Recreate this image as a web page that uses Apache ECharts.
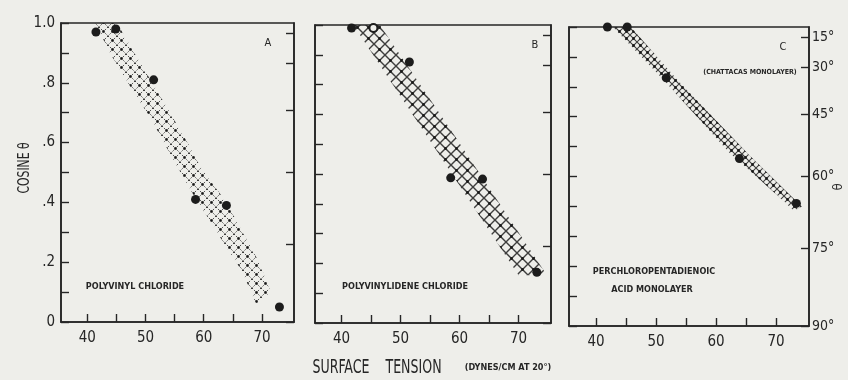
<!DOCTYPE html>
<html lang="en">
<head>
<meta charset="UTF-8">
<title>Cosine theta vs surface tension</title>
<script src="https://cdn.jsdelivr.net/npm/echarts@6/dist/echarts.min.js"></script>
<style>
    html, body { margin: 0; padding: 0; background: #eeeeea; }
    #chart { width: 848px; height: 380px; }
</style>
</head>
<body>
<div id="chart"></div>
<script>
// ticks and labels
var xTicks = [40, 45, 50, 55, 60, 65, 70];
var xLabels = [40, 50, 60, 70];
var yTicks = [0, 0.1, 0.2, 0.3, 0.4, 0.5, 0.6, 0.7, 0.8, 0.9, 1.0];
var yLabels = [0, 0.2, 0.4, 0.6, 0.8, 1.0];
var angleTicks = [15, 30, 45, 60, 75, 90];   // right axis, degrees

// measured points [surface tension, cos theta]
var pointsA = [[41.5, 0.97], [44.9, 0.98], [51.4, 0.81], [58.6, 0.41], [63.9, 0.39], [73.0, 0.05]];
var pointsB = [[41.7, 0.99], [51.5, 0.876], [58.5, 0.487], [63.9, 0.483], [73.1, 0.17]];
var openB = [[45.4, 0.99]];
var pointsC = [[41.9, 1.0], [45.2, 1.0], [51.7, 0.83], [63.9, 0.56], [73.4, 0.41]];

// hatched bands: lower edge, upper edge
var bandALow = [[41.4, 1.0], [43.9, 0.9], [47.3, 0.79], [51.1, 0.675], [54.7, 0.545], [58.1, 0.43], [61, 0.34], [63.9, 0.25], [66.6, 0.17], [69, 0.06]];
var bandAHigh = [[45.1, 1.0], [48.7, 0.88], [52.4, 0.76], [57.2, 0.60], [59.4, 0.52], [63.9, 0.40], [66.4, 0.31], [69.5, 0.20], [71.5, 0.10]];
var bandBLow = [[42, 1.0], [56.4, 0.57], [70, 0.16]];
var bandBHigh = [[46.5, 1.0], [58.6, 0.645], [74.8, 0.16]];
var bandCLow = [[42.8, 1.0], [51.4, 0.82], [62.2, 0.58], [71.2, 0.42], [73, 0.385]];
var bandCHigh = [[45.8, 1.0], [53.7, 0.82], [65.6, 0.57], [74.3, 0.40]];

var ink = '#262626';
var paper = '#eeeeea';
var font = '"DejaVu Sans Condensed", "DejaVu Sans", sans-serif';

// cross-hatch tile, dotted for the rougher panel
function makeHatch(s, dotted, lw) {
    var c = document.createElement('canvas');
    c.width = s; c.height = s;
    var g = c.getContext('2d');
    g.strokeStyle = 'rgba(30,30,30,0.85)';
    g.lineWidth = lw;
    if (dotted) g.setLineDash([1.5, 1.5]);
    g.beginPath();
    g.moveTo(0, 0); g.lineTo(s, s);
    g.moveTo(s, 0); g.lineTo(0, s);
    g.stroke();
    g.fillStyle = 'rgba(20,20,20,0.9)';
    g.beginPath(); g.arc(s / 2, s / 2, 1.4, 0, Math.PI * 2); g.fill();
    return c;
}

var grids = [
    {left: 61, top: 23, width: 233, height: 299},
    {left: 315, top: 25, width: 236, height: 298},
    {left: 569, top: 27, width: 240, height: 299}
];
var bands = [
    {low: bandALow, high: bandAHigh, hatch: 9, dotted: true, lw: 1},
    {low: bandBLow, high: bandBHigh, hatch: 11, dotted: false, lw: 1.4},
    {low: bandCLow, high: bandCHigh, hatch: 7, dotted: false, lw: 1.1}
];
var points = [pointsA, pointsB, pointsC];

var xAxes = [], yAxes = [], series = [];
grids.forEach(function (g, i) {
    g.show = true;
    g.borderColor = ink;
    g.borderWidth = 1.6;
    xAxes.push({
        type: 'value', gridIndex: i, min: 35.5, max: 75.5,
        axisLine: {lineStyle: {color: ink, width: 1.6}},
        axisTick: {inside: true, length: 8, customValues: xTicks, lineStyle: {color: ink, width: 1.4}},
        axisLabel: {customValues: xLabels, margin: 9, color: ink, fontSize: 15, fontFamily: font},
        splitLine: {show: false}
    });
    yAxes.push({
        type: 'value', gridIndex: i, min: 0, max: 1,
        axisLine: {show: true, lineStyle: {color: ink, width: 1.6}},
        axisTick: {inside: true, length: 8, customValues: yTicks, lineStyle: {color: ink, width: 1.4}},
        axisLabel: {
            show: i === 0, customValues: yLabels, margin: 6, color: ink, fontSize: 15, fontFamily: font,
            formatter: function (v) {
                if (v === 0) return '0';
                if (v === 1) return '1.0';
                return '.' + Math.round(v * 10);
            }
        },
        splitLine: {show: false}
    });
    var cosTicks = angleTicks.map(function (a) { return Math.cos(a * Math.PI / 180); });
    yAxes.push({
        type: 'value', gridIndex: i, min: 0, max: 1, position: 'right',
        axisLine: {show: true, lineStyle: {color: ink, width: 1.6}},
        axisTick: {inside: true, length: 8, customValues: cosTicks, lineStyle: {color: ink, width: 1.4}},
        axisLabel: {
            show: i === 2, customValues: cosTicks, margin: 3, color: ink, fontSize: 14, fontFamily: font,
            formatter: function (v) { return Math.round(Math.acos(Math.min(1, v)) * 180 / Math.PI) + '°'; }
        },
        splitLine: {show: false}
    });

    var b = bands[i];
    var poly = b.low.concat(b.high.slice().reverse());
    var pattern = makeHatch(b.hatch, b.dotted, b.lw);
    series.push({
        type: 'custom', xAxisIndex: i, yAxisIndex: 2 * i, silent: true,
        data: [0],
        renderItem: function (params, api) {
            return {
                type: 'polygon',
                shape: {points: poly.map(function (p) { return api.coord(p); })},
                style: {fill: {image: pattern, repeat: 'repeat'}, stroke: null}
            };
        }
    });
    series.push({
        type: 'scatter', xAxisIndex: i, yAxisIndex: 2 * i, clip: false,
        symbol: 'circle', symbolSize: 9,
        itemStyle: {color: '#1c1c1c', opacity: 1},
        data: points[i]
    });
});
series.push({
    type: 'scatter', xAxisIndex: 1, yAxisIndex: 2, clip: false,
    symbol: 'circle', symbolSize: 8,
    itemStyle: {color: paper, borderColor: '#1c1c1c', borderWidth: 2, opacity: 1},
    data: openB
});

function txt(t, x, y, size, opts) {
    opts = opts || {};
    return {
        type: 'text', x: x, y: y, rotation: opts.rotation || 0, scaleY: opts.scaleY || 1,
        style: {
            text: t, fill: ink, font: (opts.weight || 'normal') + ' ' + size + 'px ' + font,
            textAlign: opts.align || 'center', textVerticalAlign: 'middle',
            align: opts.align || 'center', verticalAlign: 'middle'
        }
    };
}

var myChart = echarts.init(document.getElementById('chart'));
var option = {
    backgroundColor: paper,
    animation: false,
    grid: grids,
    xAxis: xAxes,
    yAxis: yAxes,
    series: series,
    graphic: [
        txt('A', 268, 43, 11),
        txt('B', 535, 45, 11),
        txt('C', 783, 47, 11),
        txt('POLYVINYL CHLORIDE', 135, 287, 9, {weight: 'bold'}),
        txt('POLYVINYLIDENE CHLORIDE', 405, 287, 9, {weight: 'bold'}),
        txt('PERCHLOROPENTADIENOIC', 654, 272, 9, {weight: 'bold'}),
        txt('ACID MONOLAYER', 652, 290, 9, {weight: 'bold'}),
        txt('(CHATTACAS MONOLAYER)', 750, 72, 7, {weight: 'bold'}),
        txt('COSINE θ', 25, 168, 12, {rotation: Math.PI / 2, scaleY: 1.3}),
        txt('θ', 839, 187, 13, {rotation: Math.PI / 2}),
        txt('SURFACE    TENSION', 377, 368, 14, {scaleY: 1.35}),
        txt('(DYNES/CM AT 20°)', 508, 368, 9, {weight: 'bold'})
    ]
};
myChart.setOption(option);
</script>
</body>
</html>
